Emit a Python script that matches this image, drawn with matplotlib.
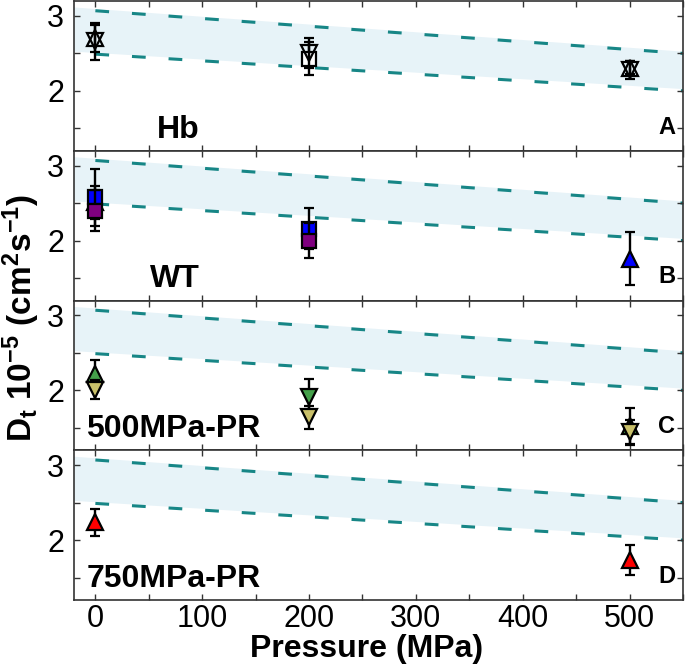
import matplotlib
matplotlib.use("Agg")
import matplotlib.pyplot as plt
from matplotlib.ticker import MultipleLocator, FixedLocator

plt.rcParams['font.family'] = ['Liberation Sans', 'DejaVu Sans']
plt.rcParams['mathtext.fontset'] = 'custom'
plt.rcParams['mathtext.rm'] = 'Liberation Sans'
plt.rcParams['mathtext.bf'] = 'Liberation Sans:bold'
plt.rcParams['mathtext.it'] = 'Liberation Sans:bold'
plt.rcParams['mathtext.default'] = 'bf'

# ---- band (reference range) ----
band_x = [0, 550]
band_upper = [3.07, 2.50]
band_lower = [2.49, 2.00]
fill_x = [-20, 550]
fill_upper = [3.12, 2.53]
fill_lower = [2.53, 2.03]

# ---- Panel A: Hb ----
hb_up_x = [0, 500];        hb_up_y = [2.70, 2.31];        hb_up_err = [0.18, 0.09]
hb_down_x = [0, 200, 500]; hb_down_y = [2.66, 2.50, 2.28]; hb_down_err = [0.25, 0.20, 0.12]
hb_sq_x = [200];           hb_sq_y = [2.43];              hb_sq_err = [0.22]

# ---- Panel B: WT ----
wt_tri_x = [0, 500];       wt_tri_y = [2.51, 1.76];       wt_tri_err = [0.22, 0.35]
wt_blue_x = [0, 200];      wt_blue_y = [2.58, 2.16];      wt_blue_err = [0.38, 0.27]
wt_purp_x = [0, 200];      wt_purp_y = [2.40, 2.00];      wt_purp_err = [0.27, 0.23]

# ---- Panel C: 500MPa-PR ----
c_gup_x = [0, 500];        c_gup_y = [2.22, 1.52];        c_gup_err = [0.19, 0.25]
c_gdown_x = [200];         c_gdown_y = [1.91];            c_gdown_err = [0.24]
c_khaki_x = [0, 200, 500]; c_khaki_y = [2.01, 1.64, 1.44]; c_khaki_err = [0.13, 0.15, 0.16]

# ---- Panel D: 750MPa-PR ----
d_red_x = [0, 500];        d_red_y = [2.24, 1.73];        d_red_err = [0.18, 0.20]

panel_names = ['Hb', 'WT', '500MPa-PR', '750MPa-PR']
panel_letters = ['A', 'B', 'C', 'D']
name_x = [0.136, 0.125, 0.020, 0.020]

BLUE = '#0000ff'
PURPLE = '#800080'
GREEN = '#44a04a'
KHAKI = '#c9c06a'
RED = '#ff0000'
TEAL = '#178686'
FILL = '#e7f3f8'

fig = plt.figure(figsize=(6.85, 6.65), dpi=100)
left, right = 74 / 685, 683 / 685
top_px, bot_px = 1, 600
h = (bot_px - top_px) / 4
axes = []
for i in range(4):
    y0 = 1 - (top_px + (i + 1) * h) / 665
    ax = fig.add_axes([left, y0, right - left, h / 665])
    axes.append(ax)


def series(ax, x, y, err, marker, face, ms=12, z=3):
    ax.errorbar(x, y, yerr=err, fmt=marker, mfc=face, mec='black', mew=1.6,
                ms=ms, ecolor='black', elinewidth=1.7, capsize=3.8, capthick=1.7,
                zorder=z)


for i, ax in enumerate(axes):
    ax.fill_between(fill_x, fill_lower, fill_upper, color=FILL, lw=0, zorder=0)
    ax.plot(band_x, band_upper, color=TEAL, lw=2.2, dashes=(4.5, 7.5), zorder=1)
    ax.plot(band_x, band_lower, color=TEAL, lw=2.2, dashes=(4.5, 7.5), zorder=1)
    ax.set_xlim(-20, 550)
    ax.set_ylim(1.2, 3.2)
    ax.xaxis.set_major_locator(MultipleLocator(100))
    ax.xaxis.set_minor_locator(MultipleLocator(50))
    ax.yaxis.set_major_locator(FixedLocator([2, 3]))
    ax.yaxis.set_minor_locator(FixedLocator([1.5, 2.5]))
    ax.tick_params(which='both', direction='in', top=True, right=True,
                   length=4, width=1.0, color='#333333', labelsize=22, pad=3)
    ax.tick_params(axis='y', pad=7)
    if i < 3:
        ax.tick_params(labelbottom=False)
    for sp in ax.spines.values():
        sp.set_color('#333333')
        sp.set_linewidth(1.2)
    ax.text(name_x[i], 0.087, panel_names[i], transform=ax.transAxes,
            fontsize=23, fontweight='bold', ha='left', va='baseline')
    ax.text(0.987, 0.114, panel_letters[i], transform=ax.transAxes,
            fontsize=17, fontweight='bold', ha='right', va='baseline')

# Panel A
axA = axes[0]
series(axA, hb_sq_x, hb_sq_y, hb_sq_err, 's', 'white', ms=10.5, z=3)
series(axA, hb_down_x, hb_down_y, hb_down_err, 'v', 'none', z=4)
series(axA, hb_up_x, hb_up_y, hb_up_err, '^', 'none', z=5)

# Panel B
axB = axes[1]
series(axB, wt_tri_x, wt_tri_y, wt_tri_err, '^', BLUE, z=3)
series(axB, wt_blue_x, wt_blue_y, wt_blue_err, 's', BLUE, ms=10.5, z=4)
series(axB, wt_purp_x, wt_purp_y, wt_purp_err, 's', PURPLE, ms=10.5, z=5)

# Panel C
axC = axes[2]
series(axC, c_gup_x, c_gup_y, c_gup_err, '^', GREEN, z=3)
series(axC, c_gdown_x, c_gdown_y, c_gdown_err, 'v', GREEN, z=3)
series(axC, c_khaki_x, c_khaki_y, c_khaki_err, 'v', KHAKI, z=4)

# Panel D
axD = axes[3]
series(axD, d_red_x, d_red_y, d_red_err, '^', RED, z=3)

fig.text(367 / 685, 0.002, 'Pressure (MPa)', fontsize=23, fontweight='bold',
         ha='center', va='bottom')
fig.text(21 / 685, 1 - 318 / 665, r'D$_t$ 10$^{-5}$ (cm$^2$s$^{-1}$)', fontsize=24,
         fontweight='bold', rotation=90, ha='center', va='center')

fig.savefig('out.png', dpi=100)
